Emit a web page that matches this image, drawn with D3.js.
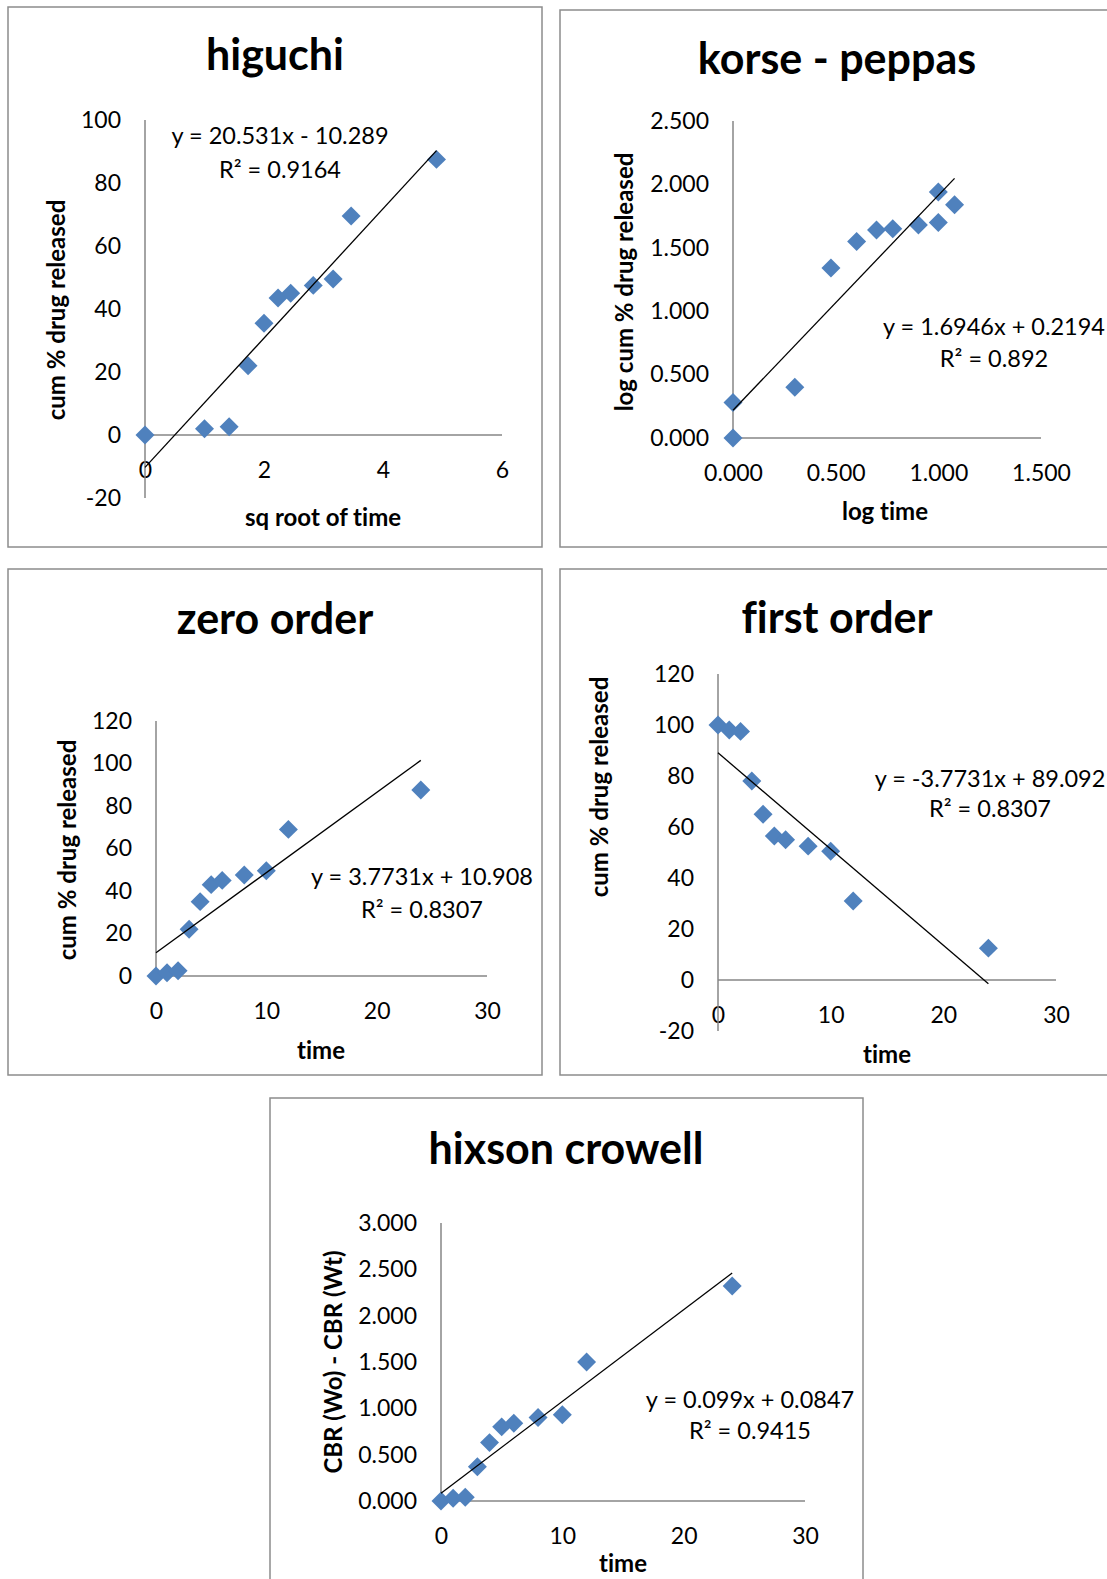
<!DOCTYPE html>
<html>
<head>
<meta charset="utf-8">
<script src="https://cdn.jsdelivr.net/npm/d3@7"></script>
<style>
  body { margin: 0; background: #fff; }
  text { font-family: Lato, "Open Sans", sans-serif; fill: #000; font-variant-ligatures: none; }
</style>
</head>
<body>
<svg width="1107" height="1579"></svg>
<script>
// sampling times (h) and the transformed x values used by each model
const times = [0, 1, 2, 3, 4, 5, 6, 8, 10, 12, 24];
const sqrtTime = [0, 1, 1.414, 1.732, 2, 2.236, 2.449, 2.828, 3.162, 3.464, 4.899];
const logTime = [0, 0, 0.301, 0.477, 0.602, 0.699, 0.778, 0.903, 1.0, 1.0, 1.079];

// y values
const higuchiRelease = [0, 2, 2.6, 22, 35.5, 43.5, 45, 47.5, 49.5, 69.5, 87.5];
const logRelease = [0, 0.28, 0.40, 1.34, 1.55, 1.64, 1.65, 1.68, 1.94, 1.70, 1.84];
const zeroRelease = [0, 1.5, 2.5, 22, 35, 43, 45, 47.5, 49.5, 69, 87.5];
const firstRemaining = [100, 98, 97.5, 78, 65, 56.5, 55, 52.5, 50.5, 31, 12.5];
const hixsonCbr = [0, 0.03, 0.04, 0.37, 0.63, 0.80, 0.84, 0.90, 0.93, 1.50, 2.32];

// trendline coefficients [slope, intercept] and R²
const fits = {
  higuchi: [20.531, -10.289, '0.9164'],
  korse: [1.6946, 0.2194, '0.892'],
  zero: [3.7731, 10.908, '0.8307'],
  first: [-3.7731, 89.092, '0.8307'],
  hixson: [0.099, 0.0847, '0.9415']
};

const titles = ['higuchi', 'korse - peppas', 'zero order', 'first order', 'hixson crowell'];
const xTitles = ['sq root of time', 'log time', 'time', 'time', 'time'];
const yTitles = ['cum % drug released', 'log cum % drug released', 'cum % drug released', 'cum % drug released', 'CBR (Wo) - CBR (Wt)'];
const eqLabels = ['y = 20.531x - 10.289', 'y = 1.6946x + 0.2194', 'y = 3.7731x + 10.908', 'y = -3.7731x + 89.092', 'y = 0.099x + 0.0847'];

const xTicksSqrt = [0, 2, 4, 6];
const xTicksLog = [0, 0.5, 1, 1.5];
const xTicksTime = [0, 10, 20, 30];
const yTicksPct = [-20, 0, 20, 40, 60, 80, 100];
const yTicksLog = [0, 0.5, 1, 1.5, 2, 2.5];
const yTicksZero = [0, 20, 40, 60, 80, 100, 120];
const yTicksFirst = [-20, 0, 20, 40, 60, 80, 100, 120];
const yTicksCbr = [0, 0.5, 1, 1.5, 2, 2.5, 3];

// plain hyphen for negatives, like the original
const f3 = v => d3.format('.3f')(v).replace('−', '-');
const f0 = v => d3.format('')(v).replace('−', '-');

const panels = [
  { key: 'higuchi', xs: sqrtTime, ys: higuchiRelease, box: [8, 7, 542, 547],
    xDomain: [0, 6], xRange: [145, 502], yDomain: [-20, 100], yRange: [498, 120],
    xTicks: xTicksSqrt, yTicks: yTicksPct, xFmt: f0, yFmt: f0,
    title: [275, 70], xt: [323, 526], yt: [65, 310], eq: [280, 144, 178] },
  { key: 'korse', xs: logTime, ys: logRelease, box: [560, 10, 1112, 547],
    xDomain: [0, 1.5], xRange: [733, 1041], yDomain: [0, 2.5], yRange: [438, 121],
    xTicks: xTicksLog, yTicks: yTicksLog, xFmt: f3, yFmt: f3,
    title: [837, 74], xt: [885, 520], yt: [633, 282], eq: [994, 335, 367] },
  { key: 'zero', xs: times, ys: zeroRelease, box: [8, 569, 542, 1075],
    xDomain: [0, 30], xRange: [156, 487], yDomain: [0, 120], yRange: [976, 721],
    xTicks: xTicksTime, yTicks: yTicksZero, xFmt: f0, yFmt: f0,
    title: [275, 634], xt: [321, 1059], yt: [76, 850], eq: [422, 885, 918] },
  { key: 'first', xs: times, ys: firstRemaining, box: [560, 569, 1112, 1075],
    xDomain: [0, 30], xRange: [718, 1056], yDomain: [-20, 120], yRange: [1031, 674],
    xTicks: xTicksTime, yTicks: yTicksFirst, xFmt: f0, yFmt: f0,
    title: [837, 633], xt: [887, 1063], yt: [608, 787], eq: [990, 787, 817] },
  { key: 'hixson', xs: times, ys: hixsonCbr, box: [270, 1098, 863, 1600],
    xDomain: [0, 30], xRange: [441, 805], yDomain: [0, 3], yRange: [1501, 1223],
    xTicks: xTicksTime, yTicks: yTicksCbr, xFmt: f0, yFmt: f3,
    title: [566, 1164], xt: [623, 1572], yt: [342, 1362], eq: [750, 1408, 1439] }
];

const svg = d3.select('svg');
const axisGrey = '#868686';
const markerBlue = '#4F81BD';

panels.forEach((p, i) => {
  const g = svg.append('g');
  const [bx0, by0, bx1, by1] = p.box;

  g.append('rect')
    .attr('x', bx0).attr('y', by0)
    .attr('width', bx1 - bx0).attr('height', by1 - by0)
    .attr('fill', '#fff')
    .attr('stroke', '#8c8c8c')
    .attr('stroke-width', 1.5);

  const xScale = d3.scaleLinear().domain(p.xDomain).range(p.xRange);
  const yScale = d3.scaleLinear().domain(p.yDomain).range(p.yRange);

  const xAxisG = g.append('g')
    .attr('transform', `translate(0,${yScale(0)})`)
    .call(d3.axisBottom(xScale).tickValues(p.xTicks).tickFormat(p.xFmt).tickSize(0).tickPadding(27));
  const yAxisG = g.append('g')
    .attr('transform', `translate(${xScale(0)},0)`)
    .call(d3.axisLeft(yScale).tickValues(p.yTicks).tickFormat(p.yFmt).tickSize(0).tickPadding(24));

  [xAxisG, yAxisG].forEach(a => {
    a.selectAll('.domain').remove();
    a.attr('font-family', null).attr('font-size', null);
    a.selectAll('text').attr('font-size', 23).attr('fill', '#000');
  });

  // axis lines crossing at zero
  g.append('line')
    .attr('x1', xScale(p.xDomain[0])).attr('x2', xScale(p.xDomain[1]))
    .attr('y1', yScale(0)).attr('y2', yScale(0))
    .attr('stroke', axisGrey).attr('stroke-width', 1.5);
  g.append('line')
    .attr('x1', xScale(0)).attr('x2', xScale(0))
    .attr('y1', yScale(p.yDomain[0])).attr('y2', yScale(p.yDomain[1]))
    .attr('stroke', axisGrey).attr('stroke-width', 1.5);

  const pts = p.xs.map((x, j) => ({ x, y: p.ys[j] }));

  g.selectAll('path.pt').data(pts)
    .enter().append('path')
    .attr('class', 'pt')
    .attr('d', d3.symbol(d3.symbolSquare, 180))
    .attr('transform', d => `translate(${xScale(d.x)},${yScale(d.y)}) rotate(45)`)
    .attr('fill', markerBlue);

  const [m, b, r2] = fits[p.key];
  const xExt = d3.extent(p.xs);
  g.append('line')
    .attr('x1', xScale(xExt[0])).attr('y1', yScale(m * xExt[0] + b))
    .attr('x2', xScale(xExt[1])).attr('y2', yScale(m * xExt[1] + b))
    .attr('stroke', '#000').attr('stroke-width', 1.3);

  g.append('text')
    .attr('x', p.title[0]).attr('y', p.title[1])
    .attr('text-anchor', 'middle')
    .attr('font-size', 43).attr('font-weight', 'bold')
    .text(titles[i]);

  g.append('text')
    .attr('x', p.xt[0]).attr('y', p.xt[1])
    .attr('text-anchor', 'middle')
    .attr('font-size', 24).attr('font-weight', 'bold')
    .text(xTitles[i]);

  g.append('text')
    .attr('transform', `translate(${p.yt[0]},${p.yt[1]}) rotate(-90)`)
    .attr('text-anchor', 'middle')
    .attr('font-size', 24).attr('font-weight', 'bold')
    .text(yTitles[i]);

  g.append('text')
    .attr('x', p.eq[0]).attr('y', p.eq[1])
    .attr('text-anchor', 'middle')
    .attr('font-size', 23.5)
    .text(eqLabels[i]);
  g.append('text')
    .attr('x', p.eq[0]).attr('y', p.eq[2])
    .attr('text-anchor', 'middle')
    .attr('font-size', 23.5)
    .text(`R² = ${r2}`);
});
</script>
</body>
</html>
